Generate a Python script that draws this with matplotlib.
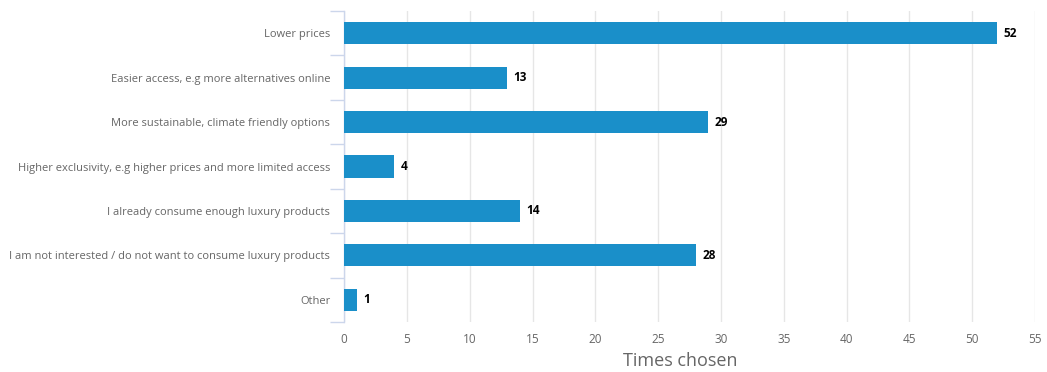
import matplotlib.pyplot as plt
import numpy as np

plt.rcParams['font.family'] = ['Open Sans', 'DejaVu Sans']

categories = [
    'Lower prices',
    'Easier access, e.g more alternatives online',
    'More sustainable, climate friendly options',
    'Higher exclusivity, e.g higher prices and more limited access',
    'I already consume enough luxury products',
    'I am not interested / do not want to consume luxury products',
    'Other',
]
counts = [52, 13, 29, 4, 14, 28, 1]
xticks = list(range(0, 56, 5))

bar_color = '#1a8fc9'
axis_color = '#ccd6eb'
grid_color = '#e6e6e6'
label_color = '#666666'

fig = plt.figure(figsize=(10.47, 3.72), dpi=100)
ax = fig.add_axes([0.3286, 0.1344, 0.66, 0.836])

y = np.arange(len(categories))
ax.barh(y, counts, height=0.5, color=bar_color, zorder=3)
for yi, v in zip(y, counts):
    ax.text(v + 0.5, yi, str(v), va='center', ha='left', fontsize=8.5,
            fontweight='bold', color='#000000', zorder=4)

ax.set_ylim(len(categories) - 0.5, -0.5)
ax.set_xlim(0, 55)
ax.set_xticks(xticks)
ax.set_xticklabels([str(t) for t in xticks], fontsize=8.5, color=label_color)

# category labels at centres, tick marks on the boundaries
ax.set_yticks(y)
ax.set_yticklabels(categories, fontsize=8, color=label_color)
ax.tick_params(axis='y', length=0, pad=10)
ax.set_yticks(np.arange(-0.5, len(categories)), minor=True)
ax.tick_params(axis='y', which='minor', length=10, color=axis_color, width=1)
ax.tick_params(axis='x', length=0, pad=8)

ax.grid(axis='x', color=grid_color, linewidth=1, zorder=0)
for side in ['top', 'right', 'bottom']:
    ax.spines[side].set_visible(False)
ax.spines['left'].set_color(axis_color)
ax.spines['left'].set_linewidth(1)

ax.set_xlabel('Times chosen', fontsize=13, color=label_color)
ax.xaxis.set_label_coords(0.486, -0.095)

fig.savefig('out.png', dpi=100)
